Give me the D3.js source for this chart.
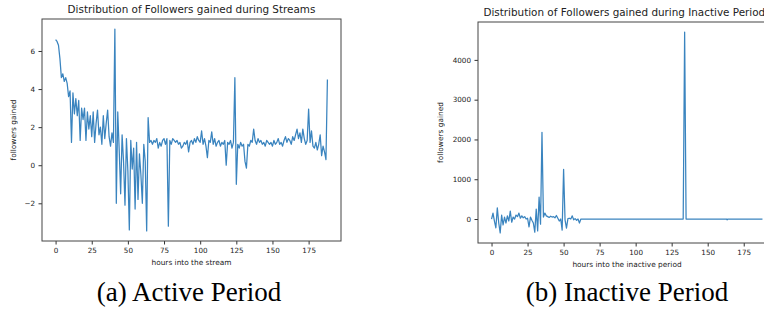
<!DOCTYPE html>
<meta charset="utf-8">
<style>
body { margin: 0; background: #fff; }
svg text { font-family: "DejaVu Sans", sans-serif; fill: #222; }
.caption { font-family: "Liberation Serif", serif; fill: #000; }
</style>
<body>
<script src="https://cdnjs.cloudflare.com/ajax/libs/d3/7.8.5/d3.min.js"></script>
<script>

// active period: followers gained per hour of streaming
var activeValues = [6.6, 6.5, 6.3, 5.6, 4.6, 4.8, 4.4, 4.6, 4.3, 3.6, 3.9, 1.2, 3.8, 2.7, 3.5, 2.6, 3.4, 1.3, 3.0, 2.4,
  3.0, 1.3, 2.8, 1.9, 2.6, 1.5, 2.8, 1.2, 2.2, 2.9, 1.6, 2.0, 1.1, 2.6, 1.4, 2.2, 2.9, 1.5, 1.0, 1.7,
  1.2, 7.15, -2.0, 2.8, 0.8, -1.5, 1.6, 0.2, -2.1, 1.4, -0.3, -3.4, 1.3, -0.2, 0.9, -2.3, 1.2, -1.8, 0.6, -0.5,
  -2.0, 1.1, 0.2, -3.45, 2.5, 1.2, 1.3, 1.1, 1.3, 1.2, 1.4, 0.9, 1.2, 1.0, 1.3, 1.4, 1.1, 1.4, -3.2, 1.3,
  1.1, 1.4, 1.3, 1.2, 1.3, 1.1, 1.2, 0.9, 1.0, 1.2, 1.1, 1.3, 0.7, 1.2, 1.3, 1.1, 1.4, 1.2, 1.5, 1.3,
  1.2, 1.8, 1.1, 1.4, 1.0, 0.4, 1.3, 1.2, 1.75, 1.1, 1.4, 1.0, 1.2, 1.3, 1.0, 1.2, 1.1, 1.3, 0.0, 1.2,
  1.1, 1.3, 0.9, 1.2, 4.6, -1.0, 1.1, 0.9, 1.2, 1.0, 1.1, 0.2, -0.15, 1.1, 1.0, 1.3, 1.2, 1.9, 1.3, 1.1,
  1.4, 1.2, 1.3, 1.1, 1.2, 1.0, 1.3, 1.2, 1.1, 1.2, 1.0, 1.3, 1.1, 1.2, 1.4, 1.1, 1.2, 1.0, 1.3, 1.5,
  1.2, 1.4, 1.3, 1.1, 1.5, 1.3, 1.6, 1.9, 1.4, 1.7, 1.2, 1.9, 1.4, 1.1, 1.3, 2.95, 1.2, 1.8, 1.0, 0.9,
  1.2, 0.8, 1.1, 1.6, 0.5, 1.0, 0.7, 0.3, 4.5];
var activeHours = d3.range(activeValues.length);

// inactive period: followers gained per hour offline
var inactiveHours = [0, 1, 2, 3, 4, 5, 6, 7, 8, 9, 10, 11, 12, 13, 14, 15, 16, 17, 18, 19,
  20, 21, 22, 23, 24, 25, 26, 27, 28, 29, 30, 31, 32, 33, 34, 35, 36, 37, 38, 39,
  40, 41, 42, 43, 44, 45, 46, 47, 48, 49, 50, 51, 52, 53, 54, 55, 56, 57, 58, 59,
  60, 61, 62, 63, 133, 134, 135, 163, 163.5, 164, 188];
var inactiveValues = [0, 150, -50, -220, 280, -100, -350, 100, -150, 50, -100, 80, -50, 200, -80, 50, 0, 100, 60, 150,
  20, 80, 30, 60, 0, 20, -200, 50, -30, -100, -330, 250, -300, 550, -130, 2180, 50, 150, 80, 60,
  40, 70, 50, 60, 30, 90, 20, -50, 0, -280, 1250, -20, -230, 10, 20, 0, 80, -20, 10, -30,
  0, -100, 0, 0, 0, 4700, 0, 0, -20, 0, 0];

var hourTicks = [0, 25, 50, 75, 100, 125, 150, 175];
var activeYTicks = [-2, 0, 2, 4, 6];
var inactiveYTicks = [0, 1000, 2000, 3000, 4000];

var W = 764, H = 314;
var svg = d3.select("body").append("svg").attr("width", W).attr("height", H);

// matplotlib-style 5% margin around the data
function padded(ext) {
  var p = (ext[1] - ext[0]) * 0.05;
  return [ext[0] - p, ext[1] + p];
}

function panel(o) {
  var x = d3.scaleLinear().domain(padded(d3.extent(o.xs))).range([o.left, o.right]);
  var y = d3.scaleLinear().domain(padded(d3.extent(o.ys))).range([o.bottom, o.top]);
  var g = svg.append("g");

  var pts = o.xs.map(function(d, i) { return [d, o.ys[i]]; });
  g.append("path")
    .datum(pts)
    .attr("fill", "none")
    .attr("stroke", "#3a84bf")
    .attr("stroke-width", 1.25)
    .attr("stroke-linejoin", "round")
    .attr("d", d3.line().x(function(d) { return x(d[0]); }).y(function(d) { return y(d[1]); }));

  var xa = g.append("g").attr("transform", "translate(0," + o.bottom + ")")
    .call(d3.axisBottom(x).tickValues(o.xticks).tickSize(3.5).tickPadding(3).tickSizeOuter(0));
  var ya = g.append("g").attr("transform", "translate(" + o.left + ",0)")
    .call(d3.axisLeft(y).tickValues(o.yticks).tickSize(3.5).tickPadding(3.5).tickSizeOuter(0)
      .tickFormat(d3.format("d")));
  [xa, ya].forEach(function(a) {
    a.select(".domain").remove();
    a.selectAll("line").attr("stroke", "#333");
    a.selectAll("text").style("font-size", o.tickSize + "px").attr("fill", "#222");
  });

  g.append("rect")
    .attr("x", o.left).attr("y", o.top)
    .attr("width", o.right - o.left).attr("height", o.bottom - o.top)
    .attr("fill", "none").attr("stroke", "#444").attr("stroke-width", 1);

  var cx = (o.left + o.right) / 2;
  g.append("text").attr("x", cx).attr("y", o.top - 6)
    .attr("text-anchor", "middle").style("font-size", o.titleSize + "px").text(o.title);
  g.append("text").attr("x", cx).attr("y", o.bottom + 24)
    .attr("text-anchor", "middle").style("font-size", o.labelSize + "px").text(o.xlabel);
  g.append("text")
    .attr("transform", "translate(" + o.ylabelX + "," + (o.top + o.bottom) / 2 + ") rotate(-90)")
    .attr("text-anchor", "middle").style("font-size", o.labelSize + "px").text(o.ylabel);
  svg.append("text").attr("class", "caption")
    .attr("x", o.captionX).attr("y", 301)
    .attr("text-anchor", "middle").style("font-size", "27px").text(o.caption);
}

panel({
  xs: activeHours, ys: activeValues, xticks: hourTicks, yticks: activeYTicks,
  left: 42, right: 341, top: 19, bottom: 241,
  title: "Distribution of Followers gained during Streams",
  xlabel: "hours into the stream", ylabel: "followers gained",
  ylabelX: 16, tickSize: 7.2, labelSize: 7.4, titleSize: 10.4,
  caption: "(a) Active Period", captionX: 189
});

panel({
  xs: inactiveHours, ys: inactiveValues, xticks: hourTicks, yticks: inactiveYTicks,
  left: 478, right: 776, top: 22, bottom: 243,
  title: "Distribution of Followers gained during Inactive Periods",
  xlabel: "hours into the inactive period", ylabel: "followers gained",
  ylabelX: 443, tickSize: 7.2, labelSize: 7.4, titleSize: 10.4,
  caption: "(b) Inactive Period", captionX: 627
});

</script>
</body>
